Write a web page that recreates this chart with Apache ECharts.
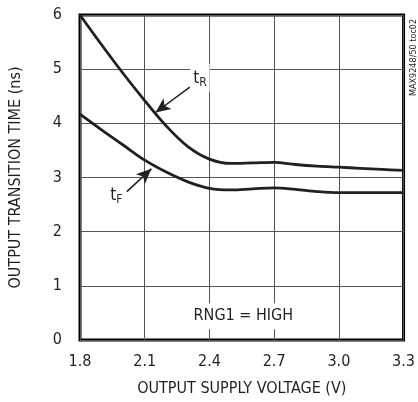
<!DOCTYPE html>
<html><head><meta charset="utf-8">
<script src="https://cdn.jsdelivr.net/npm/echarts@6/dist/echarts.min.js"></script>
<style>html,body{margin:0;padding:0;background:#fff}#c{width:418px;height:402px}</style>
</head><body><div id="c"></div>
<script>
var voltage = [1.8,1.9,2.0,2.1,2.2,2.3,2.4,2.5,2.6,2.7,2.8,2.9,3.0,3.1,3.2,3.3];
var tRise   = [6.0,5.45,4.92,4.42,3.95,3.57,3.34,3.26,3.27,3.28,3.24,3.21,3.19,3.17,3.15,3.13];
var tFall   = [4.17,3.88,3.6,3.32,3.1,2.92,2.8,2.77,2.79,2.81,2.78,2.74,2.72,2.72,2.72,2.72];
var xTicks  = ['1.8','2.1','2.4','2.7','3.0','3.3'];
var yTicks  = ['0','1','2','3','4','5','6'];

var FONT = '"Liberation Sans Narrow","DejaVu Sans Condensed","Roboto Condensed",sans-serif';
var chart = echarts.init(document.getElementById('c'), null, {renderer:'canvas'});
function pairs(xs, ys){ return xs.map(function(x,i){return [x, ys[i]];}); }

chart.setOption({
  animation:false,
  grid:{left:79,right:10,top:15,bottom:59,show:true,borderColor:'#000',borderWidth:3,backgroundColor:'transparent'},
  xAxis:{type:'value',min:1.8,max:3.3,interval:0.3,
    name:'OUTPUT SUPPLY VOLTAGE (V)',nameLocation:'middle',nameGap:41,
    nameTextStyle:{fontFamily:FONT,fontSize:16,color:'#231f20'},
    axisLine:{show:false},axisTick:{show:false},
    axisLabel:{margin:14,fontFamily:FONT,fontSize:16,color:'#231f20',
      formatter:function(v){var i=Math.round((v-1.8)/0.3);return xTicks[i]||'';}},
    splitLine:{show:true,lineStyle:{color:'#555',width:1}}},
  yAxis:{type:'value',min:0,max:6,interval:1,
    name:'OUTPUT TRANSITION TIME (ns)',nameLocation:'middle',nameGap:56,
    nameTextStyle:{fontFamily:FONT,fontSize:16,color:'#231f20'},
    axisLine:{show:false},axisTick:{show:false},
    axisLabel:{margin:18,fontFamily:FONT,fontSize:16,color:'#231f20',
      formatter:function(v){return yTicks[Math.round(v)]||'';}},
    splitLine:{show:true,lineStyle:{color:'#555',width:1}}},
  series:[
    {type:'line',data:pairs(voltage,tRise),smooth:0.35,symbol:'none',
      lineStyle:{color:'#231f20',width:2.8},
      markLine:{silent:true,symbol:['none','arrow'],symbolSize:[10,15],
        lineStyle:{color:'#231f20',width:1.5,type:'solid'},label:{show:false},
        data:[[{coord:[2.309,4.67]},{coord:[2.15,4.2]}]]},
      markPoint:{symbol:'rect',symbolSize:0,silent:true,
        data:[{coord:[2.356,4.84],value:'tR',
          label:{show:true,position:'inside',backgroundColor:'#fff',padding:[5,3,3,3],
            formatter:'{t|t}{s|R}',
            rich:{t:{fontFamily:FONT,fontSize:17,color:'#231f20'},
                  s:{fontFamily:FONT,fontSize:12,color:'#231f20',verticalAlign:'bottom',padding:[8,0,0,0]}}}},
          {coord:[2.557,0.44],value:'RNG1',
          label:{show:true,position:'inside',backgroundColor:'#fff',padding:[5,4,5,4],
            formatter:'RNG1 = HIGH',fontFamily:FONT,fontSize:16,color:'#231f20'}}]}},
    {type:'line',data:pairs(voltage,tFall),smooth:0.35,symbol:'none',
      lineStyle:{color:'#231f20',width:2.8},
      markLine:{silent:true,symbol:['none','arrow'],symbolSize:[10,15],
        lineStyle:{color:'#231f20',width:1.5,type:'solid'},label:{show:false},
        data:[[{coord:[2.017,2.74]},{coord:[2.131,3.16]}]]},
      markPoint:{symbol:'rect',symbolSize:0,silent:true,
        data:[{coord:[1.969,2.67],value:'tF',
          label:{show:true,position:'inside',
            formatter:'{t|t}{s|F}',
            rich:{t:{fontFamily:FONT,fontSize:17,color:'#231f20'},
                  s:{fontFamily:FONT,fontSize:12,color:'#231f20',verticalAlign:'bottom',padding:[8,0,0,0]}}}}]}}
  ],
  graphic:[{type:'text',x:418,y:96,rotation:Math.PI/2,
    style:{text:'MAX9248/50 toc02',fontFamily:FONT,fontSize:9,fill:'#231f20',align:'left',verticalAlign:'bottom'}}]
});
</script></body></html>
